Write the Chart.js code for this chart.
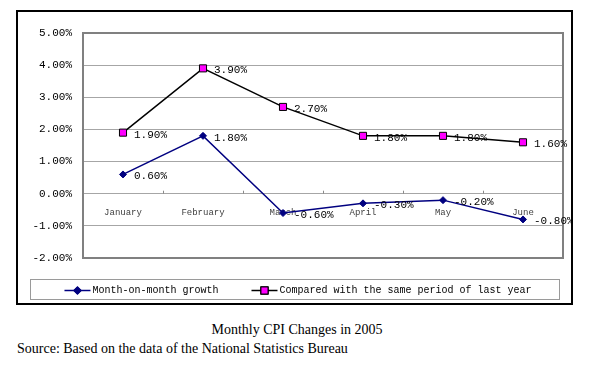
<!DOCTYPE html>
<html>
<head>
<meta charset="utf-8">
<script src="https://cdn.jsdelivr.net/npm/chart.js"></script>
<style>
  body { margin: 0; background: #fff; width: 591px; height: 369px; position: relative; overflow: hidden; }
  #frame { position: absolute; left: 16px; top: 10px; width: 557px; height: 295px; border: 2px solid #000; box-sizing: border-box; }
  #frame canvas { position: absolute; left: 0; top: 0; }
  .caption { position: absolute; font-family: "Liberation Serif", "Times New Roman", serif; font-size: 14px; line-height: 16px; color: #000; white-space: nowrap; }
  #title { left: 0; width: 594px; top: 322px; text-align: center; }
  #source { left: 17px; top: 341px; }
</style>
</head>
<body>
<div id="frame"><canvas id="cpiChart" width="553" height="291"></canvas></div>
<div class="caption" id="title">Monthly CPI Changes in 2005</div>
<div class="caption" id="source">Source: Based on the data of the National Statistics Bureau</div>
<script>
// datos
var months = ['January', 'February', 'March', 'April', 'May', 'June'];
var monthOnMonth = [0.6, 1.8, -0.6, -0.3, -0.2, -0.8];
var yearOnYear = [1.9, 3.9, 2.7, 1.8, 1.8, 1.6];
var seriesNames = ['Month-on-month growth', 'Compared with the same period of last year'];

var monoFont = '"Liberation Mono", "DejaVu Sans Mono", monospace';

function pct(v) {
    return v.toFixed(2) + '%';
}

// etiquetas de valor a la derecha de cada punto
var valueLabels = {
    id: 'valueLabels',
    afterDatasetsDraw: function(chart) {
        var ctx = chart.ctx;
        ctx.save();
        ctx.font = '11px ' + monoFont;
        ctx.fillStyle = '#000';
        ctx.textBaseline = 'middle';
        ctx.textAlign = 'left';
        chart.data.datasets.forEach(function(ds, i) {
            var meta = chart.getDatasetMeta(i);
            meta.data.forEach(function(pt, j) {
                ctx.fillText(pct(ds.data[j]), pt.x + 11, pt.y + 2);
            });
        });
        ctx.restore();
    }
};

// marco del área, marcas del eje x y leyenda con caja
var frameAndLegend = {
    id: 'frameAndLegend',
    beforeDatasetsDraw: function(chart) {
        var ctx = chart.ctx;
        var a = chart.chartArea;
        var x = chart.scales.x;
        var y0 = chart.scales.y.getPixelForValue(0);
        ctx.save();
        ctx.strokeStyle = '#8a8a8a';
        ctx.lineWidth = 1;
        for (var i = 1; i < months.length; i++) {
            var bx = Math.round((x.getPixelForValue(i - 1) + x.getPixelForValue(i)) / 2) + 0.5;
            ctx.beginPath();
            ctx.moveTo(bx, y0 - 3);
            ctx.lineTo(bx, y0);
            ctx.stroke();
        }
        ctx.strokeStyle = '#808080';
        ctx.lineWidth = 2;
        ctx.strokeRect(a.left, a.top, a.right - a.left, a.bottom - a.top);
        ctx.restore();
    },
    afterDraw: function(chart) {
        var ctx = chart.ctx;
        var a = chart.chartArea;
        var boxL = 12.5, boxR = chart.width - 11.5;
        var boxT = a.bottom + 21.5, boxH = 20;
        ctx.save();
        ctx.strokeStyle = '#9a9a9a';
        ctx.lineWidth = 1;
        ctx.strokeRect(boxL, boxT, boxR - boxL, boxH);

        ctx.font = '10px ' + monoFont;
        var symW = 26, symGap = 2, itemGap = 33;
        var widths = chart.data.datasets.map(function(ds) {
            return symW + symGap + ctx.measureText(ds.label).width;
        });
        var total = widths.reduce(function(s, w) { return s + w; }, 0) + itemGap * (widths.length - 1);
        var cx = (boxL + boxR) / 2 - total / 2 + 3;
        var cy = boxT + boxH / 2 + 1;
        chart.data.datasets.forEach(function(ds, i) {
            ctx.strokeStyle = ds.borderColor;
            ctx.lineWidth = 1.5;
            ctx.beginPath();
            ctx.moveTo(cx, cy);
            ctx.lineTo(cx + symW, cy);
            ctx.stroke();
            Chart.helpers.drawPoint(ctx, {
                pointStyle: ds.pointStyle,
                radius: ds.pointRadius,
                borderWidth: ds.pointBorderWidth,
                rotation: 0
            }, cx + symW / 2, cy);
            ctx.fillStyle = ds.pointBackgroundColor;
            ctx.strokeStyle = ds.pointBorderColor;
            ctx.lineWidth = ds.pointBorderWidth;
            ctx.fill();
            if (ds.pointBorderWidth > 0) ctx.stroke();
            ctx.fillStyle = '#000';
            ctx.textBaseline = 'middle';
            ctx.textAlign = 'left';
            ctx.fillText(ds.label, cx + symW + symGap, cy);
            cx += widths[i] + itemGap;
        });
        ctx.restore();
    }
};

var ctx = document.getElementById('cpiChart').getContext('2d');
var cpiChart = new Chart(ctx, {
    type: 'line',
    data: {
        labels: months,
        datasets: [
            {
                label: seriesNames[0],
                data: monthOnMonth,
                borderColor: '#000080',
                backgroundColor: '#000080',
                borderWidth: 1.5,
                pointStyle: 'rectRot',
                pointRadius: 3.5,
                pointBackgroundColor: '#000080',
                pointBorderColor: '#000080',
                pointBorderWidth: 1,
                tension: 0,
                fill: false
            },
            {
                label: seriesNames[1],
                data: yearOnYear,
                borderColor: '#000000',
                backgroundColor: '#000000',
                borderWidth: 1.5,
                pointStyle: 'rect',
                pointRadius: 5,
                pointBackgroundColor: '#ff00ff',
                pointBorderColor: '#000000',
                pointBorderWidth: 1,
                tension: 0,
                fill: false
            }
        ]
    },
    options: {
        responsive: false,
        animation: false,
        layout: { padding: { left: 12, right: 8, top: 21, bottom: 45 } },
        plugins: {
            legend: { display: false },
            tooltip: { enabled: false },
            title: { display: false }
        },
        scales: {
            x: {
                position: { y: 0 },
                offset: true,
                grid: { display: false, drawTicks: false },
                border: { display: false },
                ticks: {
                    padding: 13,
                    maxRotation: 0,
                    autoSkip: false,
                    color: '#404040',
                    font: { family: monoFont, size: 9 }
                }
            },
            y: {
                min: -2,
                max: 5,
                afterFit: function(scale) { scale.width = 53; },
                grid: { color: '#a6a6a6', lineWidth: 1, drawTicks: false },
                border: { display: false },
                ticks: {
                    stepSize: 1,
                    padding: 11,
                    color: '#000',
                    font: { family: monoFont, size: 11 },
                    callback: function(v) { return pct(v); }
                }
            }
        }
    },
    plugins: [frameAndLegend, valueLabels]
});
</script>
</body>
</html>
